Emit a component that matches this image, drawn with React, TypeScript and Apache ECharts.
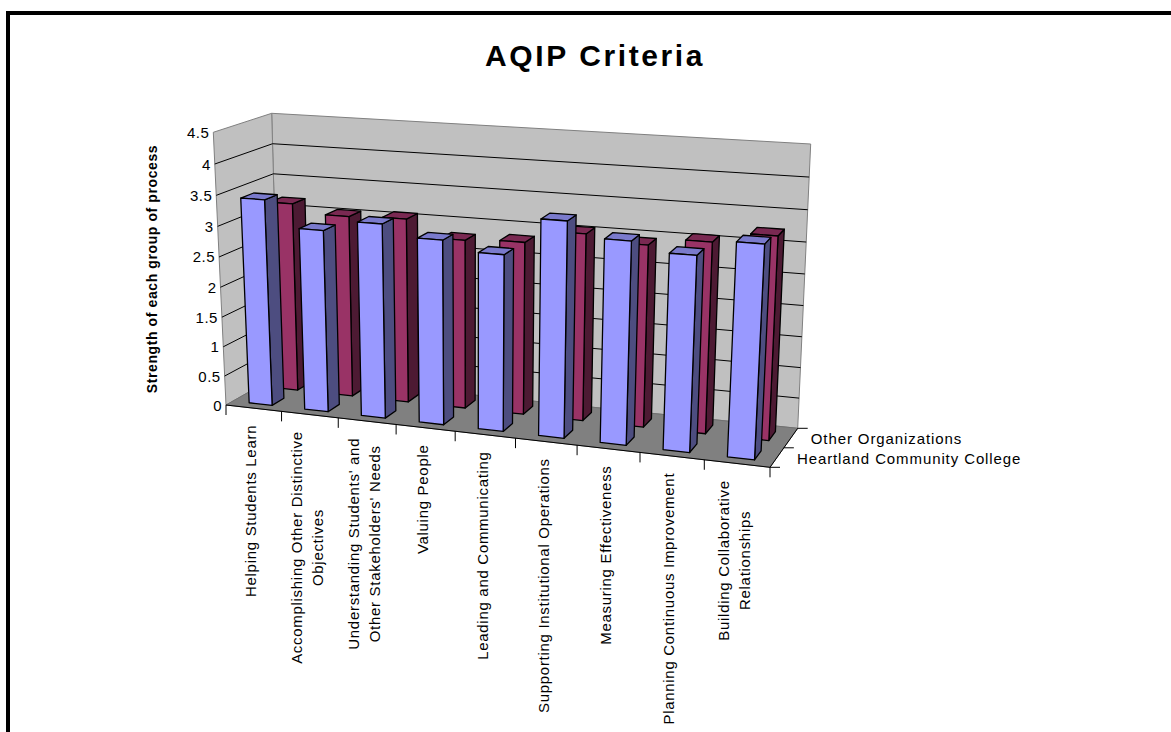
import React, { useEffect, useRef } from "react";
import * as echarts from "echarts";

const chartTitle = "AQIP Criteria";
const valueAxisName = "Strength of each group of process";
const categories = [
  "Helping Students Learn",
  "Accomplishing Other Distinctive\nObjectives",
  "Understanding Students' and\nOther Stakeholders' Needs",
  "Valuing People",
  "Leading and Communicating",
  "Supporting Institutional Operations",
  "Measuring Effectiveness",
  "Planning Continuous Improvement",
  "Building Collaborative\nRelationships",
];
const seriesNames = ["Heartland Community College", "Other Organizations"];
const heartland = [3.43, 3.01, 3.19, 3.01, 2.86, 3.46, 3.23, 3.09, 3.34];
const others = [3.18, 3.04, 3.07, 2.8, 2.84, 3.05, 2.95, 3.07, 3.24];
const valueTicks = [0, 0.5, 1, 1.5, 2, 2.5, 3, 3.5, 4, 4.5];

const FONT = '"Liberation Sans", Arial, sans-serif';
const BLUE = { front: "#9999ff", side: "#4d4d80", top: "#7a7acc" };
const WINE = { front: "#993366", side: "#4d1a33", top: "#7a2952" };

// Screen position of the eight corners of the plot box.
// Keys read: [left|right][bottom|top][front|back].
const BOX = {
  lbf: [226, 405],
  rbf: [770, 467.3],
  lbb: [279, 375],
  rbb: [797.7, 428.3],
  ltf: [213.3, 132.3],
  rtf: [785, 170],
  ltb: [271.7, 113.3],
  rtb: [810.7, 144],
};

const lerp = (a: number[], b: number[], t: number) => [a[0] + (b[0] - a[0]) * t, a[1] + (b[1] - a[1]) * t];
// Foreshortening along an edge of the box.
const foreshorten = (t: number, k: number) => (t * k) / (1 + (k - 1) * t);

function boxPoint(u: number, v: number, w: number) {
  const uu = foreshorten(u, 0.91);
  const vv = foreshorten(v, 0.95);
  const bottom = lerp(lerp(BOX.lbf, BOX.rbf, uu), lerp(BOX.lbb, BOX.rbb, uu), w);
  const top = lerp(lerp(BOX.ltf, BOX.rtf, uu), lerp(BOX.ltb, BOX.rtb, uu), w);
  return lerp(bottom, top, vv);
}

// Maps a (category, offset in bands, value, depth) tuple through the cartesian axes into the box.
function projector(params: any, api: any) {
  const rect = params.coordSys;
  const band = api.size([1, 0])[0];
  return (cat: number, off: number, value: number, w: number) => {
    const p = api.coord([cat, value]);
    const u = (p[0] + off * band - rect.x) / rect.width;
    const v = (rect.y + rect.height - p[1]) / rect.height;
    return boxPoint(u, v, w);
  };
}

const face = (points: number[][], fill: string, stroke: string = "#000", lineWidth = 1.3) => ({
  type: "polygon",
  shape: { points },
  style: { fill, stroke, lineWidth, lineJoin: "round" },
});
const stroke = (points: number[][], color: string, lineWidth = 1) => ({
  type: "polyline",
  shape: { points },
  style: { fill: "none", stroke: color, lineWidth },
});

const LAST = categories.length - 1;
const MAX = valueTicks[valueTicks.length - 1];

function renderWalls(params: any, api: any) {
  const P = projector(params, api);
  const L = (val: number, w: number) => P(0, -0.5, val, w);
  const R = (val: number, w: number) => P(LAST, 0.5, val, w);
  const children: any[] = [
    face([L(0, 1), R(0, 1), R(MAX, 1), L(MAX, 1)], "#c0c0c0", "#808080", 1),
    face([L(0, 0), L(0, 1), L(MAX, 1), L(MAX, 0)], "#c0c0c0", "#808080", 1),
    face([L(0, 0), R(0, 0), R(0, 1), L(0, 1)], "#808080", "#707070", 1),
  ];
  valueTicks.slice(1, -1).forEach((t) => {
    children.push(stroke([L(t, 0), L(t, 1), R(t, 1)], "#000"));
  });
  children.push(stroke([L(0, 0), R(0, 0), R(0, 1)], "#000"));
  return { type: "group", children };
}

function renderValueTick(params: any, api: any) {
  const P = projector(params, api);
  const t = api.value(1);
  const p = P(0, -0.5, t, 0);
  return {
    type: "text",
    x: p[0] - 4,
    y: p[1],
    style: { text: String(t), font: `15px ${FONT}`, fill: "#000", align: "right", verticalAlign: "middle" },
  };
}

const measureCanvas = document.createElement("canvas").getContext("2d")!;
function labelLength(text: string, font: string, spacing: number) {
  measureCanvas.font = font;
  return Math.max(
    ...text.split("\n").map((line) => measureCanvas.measureText(line).width + spacing * (line.length - 1)),
  );
}

const CATEGORY_FONT = `15px ${FONT}`;
const CATEGORY_SPACING = 0.7;

function renderCategory(params: any, api: any) {
  const P = projector(params, api);
  const i = api.value(0);
  const a = P(i, -0.5, 0, 0);
  const c = P(i, 0, 0, 0);
  const name = categories[i];
  const len = labelLength(name, CATEGORY_FONT, CATEGORY_SPACING);
  const children: any[] = [stroke([a, [a[0], a[1] + 10]], "#000")];
  if (i === LAST) {
    const b = P(i, 0.5, 0, 0);
    children.push(stroke([b, [b[0], b[1] + 10]], "#000"));
  }
  children.push({
    type: "text",
    x: c[0] - 3,
    y: c[1] + 17 + len / 2,
    rotation: Math.PI / 2,
    style: {
      text: name,
      font: CATEGORY_FONT,
      lineHeight: 21,
      fill: "#000",
      align: "center",
      verticalAlign: "middle",
    },
  });
  return { type: "group", children };
}

function renderDepthAxis(params: any, api: any) {
  const P = projector(params, api);
  const children: any[] = [];
  [0, 0.5, 1].forEach((w) => {
    const p = P(LAST, 0.5, 0, w);
    children.push(stroke([p, [p[0] + 10, p[1]]], "#000"));
  });
  seriesNames.forEach((name, row) => {
    const p = P(LAST, 0.5, 0, 0.25 + row * 0.5);
    children.push({
      type: "text",
      x: p[0] + 20,
      y: p[1] + 0.5,
      style: { text: name, font: `15px ${FONT}`, fill: "#000", align: "left", verticalAlign: "middle" },
    });
  });
  return { type: "group", children };
}

// One 3D column: front, side and top faces, all taken from the category and value of the datum.
function columnRenderer(w0: number, w1: number, colors: typeof BLUE) {
  const half = 0.208;
  return (params: any, api: any) => {
    const P = projector(params, api);
    const i = api.value(0);
    const val = api.value(1);
    return {
      type: "group",
      children: [
        face([P(i, half, 0, w0), P(i, half, 0, w1), P(i, half, val, w1), P(i, half, val, w0)], colors.side),
        face([P(i, -half, val, w0), P(i, half, val, w0), P(i, half, val, w1), P(i, -half, val, w1)], colors.top),
        face([P(i, -half, 0, w0), P(i, half, 0, w0), P(i, half, val, w0), P(i, -half, val, w0)], colors.front),
      ],
    };
  };
}

export default function App() {
  const ref = useRef<HTMLDivElement>(null);

  useEffect(() => {
    const chart = echarts.init(ref.current!, undefined, { renderer: "svg" });
    chart.setOption({
      animation: false,
      backgroundColor: "#fff",
      title: {
        text: chartTitle,
        left: 590,
        top: 35,
        textAlign: "center",
        textStyle: { fontFamily: FONT, fontWeight: "bold", fontSize: 30, color: "#000" },
      },
      grid: { left: 100, right: 100, top: 100, bottom: 100 },
      xAxis: { type: "category", data: categories, show: false },
      yAxis: { type: "value", min: 0, max: MAX, interval: 0.5, show: false },
      graphic: [
        { type: "rect", shape: { x: 6, y: 11, width: 1165, height: 4 }, style: { fill: "#000" } },
        { type: "rect", shape: { x: 6, y: 11, width: 4, height: 721 }, style: { fill: "#000" } },
        {
          type: "text",
          x: 152,
          y: 269,
          rotation: Math.PI / 2,
          style: {
            text: valueAxisName,
            font: `bold 14px ${FONT}`,
            fill: "#000",
            align: "center",
            verticalAlign: "middle",
          },
        },
      ],
      series: [
        { type: "custom", name: "walls", data: [[0, 0]], renderItem: renderWalls, silent: true },
        { type: "custom", name: "valueTicks", data: valueTicks.map((t) => [0, t]), renderItem: renderValueTick, silent: true },
        { type: "custom", name: "categoryAxis", data: categories.map((_, i) => [i, 0]), renderItem: renderCategory, silent: true },
        { type: "custom", name: "depthAxis", data: [[0, 0]], renderItem: renderDepthAxis, silent: true },
        { type: "custom", name: seriesNames[1], data: others.map((v, i) => [i, v]), renderItem: columnRenderer(0.635, 0.865, WINE), silent: true },
        { type: "custom", name: seriesNames[0], data: heartland.map((v, i) => [i, v]), renderItem: columnRenderer(0.135, 0.365, BLUE), silent: true },
      ],
    });

    // The SVG renderer has no letter-spacing option, so it is set on the finished text nodes.
    ref.current!.querySelectorAll("svg text").forEach((node) => {
      const el = node as SVGTextElement;
      const content = el.textContent || "";
      let spacing = 0.9;
      if (content === chartTitle) spacing = 2.6;
      else if (content === valueAxisName) spacing = 0.6;
      else if (valueTicks.map(String).includes(content)) spacing = 0.5;
      else if (categories.some((c) => c.split("\n").includes(content))) spacing = CATEGORY_SPACING;
      el.style.letterSpacing = `${spacing}px`;
    });

    return () => chart.dispose();
  }, []);

  return <div ref={ref} style={{ position: "fixed", left: 0, top: 0, width: 1171, height: 732 }} />;
}
